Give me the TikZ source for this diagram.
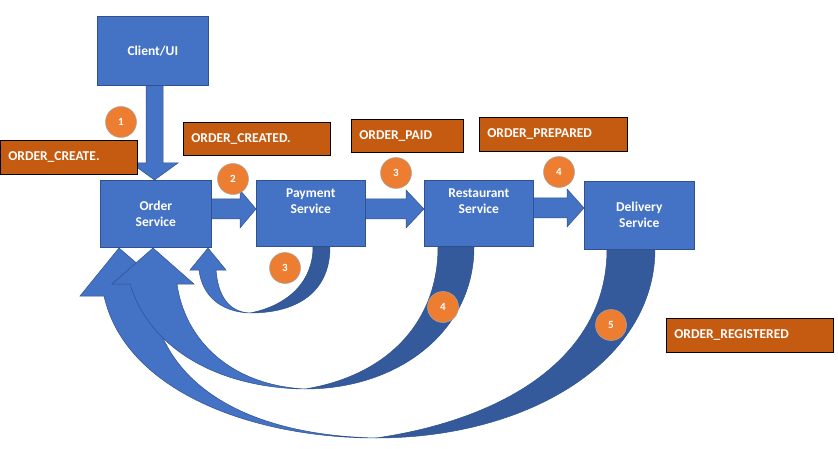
\documentclass[tikz,border=0pt]{standalone}
\usepackage{fontspec}
\setmainfont{Carlito}
\begin{document}
\begin{tikzpicture}[x=1pt,y=-1pt,
  svc/.style={draw=blue1d,line width=0.6pt,fill=blue1,text=white,font=\bfseries\fontsize{13.5}{16}\selectfont,align=center,anchor=north west},
  lbl/.style={draw=black,line width=0.6pt,fill=orng,text=white,font=\bfseries\fontsize{13.5}{16}\selectfont,anchor=north west,inner xsep=8pt,inner ysep=0pt,align=left},
  num/.style={circle,draw=gray!70,line width=0.5pt,fill=orng2,text=white,font=\bfseries\fontsize{11}{12}\selectfont,minimum size=31pt,inner sep=0pt},
  lt/.style={fill=blue1,draw=blue1d,line width=0.5pt},
  dk/.style={fill=blue2,draw=blue1d,line width=0.5pt}]
\definecolor{blue1}{HTML}{4472C4}
\definecolor{blue1d}{HTML}{2F528F}
\definecolor{blue2}{HTML}{345A9C}
\definecolor{orng}{HTML}{C55A11}
\definecolor{orng2}{HTML}{ED7D31}
\useasboundingbox (0,0) rectangle (838,449);
% large curved arrow
\draw[dk] (607,249) -- (655,249) .. controls (655,360) and (530,438) .. (376,438) .. controls (500,420) and (607,360) .. (607,249) -- cycle;
\draw[lt] (376,438) .. controls (240,435) and (160,380) .. (152,296) -- (175,296) -- (119,248) -- (80,296) -- (104,296) .. controls (125,390) and (250,438) .. (376,438) -- cycle;
% medium
\draw[dk] (438,247) -- (474,247) .. controls (474,330) and (400,389) .. (305,389) .. controls (390,375) and (438,320) .. (438,247) -- cycle;
\draw[lt] (305,389) .. controls (230,385) and (185,340) .. (177,284) -- (194,284) -- (153,248) -- (112,284) -- (130,284) .. controls (150,350) and (220,388) .. (305,389) -- cycle;
% small
\draw[dk] (313,247) -- (330,247) .. controls (330,290) and (300,313) .. (250,313) .. controls (290,305) and (313,280) .. (313,247) -- cycle;
\draw[lt] (250,313) .. controls (228,312) and (218,295) .. (216,270) -- (226,270) -- (208,248) -- (190,270) -- (199,270) .. controls (202,295) and (220,312) .. (250,313) -- cycle;
% down arrow
\draw[lt] (146,85) -- (163,85) -- (163,163) -- (178,163) -- (154.5,180) -- (131,163) -- (146,163) -- cycle;
% right arrows
\draw[lt] (211,199) -- (240,199) -- (240,190) -- (256,209) -- (240,228) -- (240,219) -- (211,219) -- cycle;
\draw[lt] (365,199) -- (406,199) -- (406,190) -- (424,209) -- (406,228) -- (406,219) -- (365,219) -- cycle;
\draw[lt] (533,198) -- (567,198) -- (567,189) -- (584,208) -- (567,227) -- (567,218) -- (533,218) -- cycle;
% boxes
\node[svc,minimum width=111pt,minimum height=69pt] (ui) at (97,16) {Client/UI};
\node[svc,minimum width=111pt,minimum height=67pt] (os) at (100,180) {Order\\Service};
\node[svc,minimum width=109pt,minimum height=66pt] (ps) at (256,180) {Payment\\Service\\[8pt]};
\node[svc,minimum width=109pt,minimum height=66pt] (rs) at (424,180) {Restaurant\\Service\\[8pt]};
\node[svc,minimum width=110pt,minimum height=68pt] (ds) at (584,181) {Delivery\\Service};
% labels
\node[lbl,minimum height=34pt,text width=121pt] (l1) at (0,140) {ORDER\_CREATE.};
\node[lbl,minimum height=33pt,text width=131pt] (l2) at (183,122) {ORDER\_CREATED.};
\node[lbl,minimum height=33pt,text width=96pt] (l3) at (351,119) {ORDER\_PAID};
\node[lbl,minimum height=34pt,text width=132pt] (l4) at (479,117) {ORDER\_PREPARED};
\node[lbl,minimum height=34pt,text width=151pt] (l5) at (666,318) {ORDER\_REGISTERED};
% numbers
\node[num] (n1) at (121,122) {1};
\node[num] (n2) at (233,179) {2};
\node[num] (n3) at (396,173) {3};
\node[num] (n4) at (559,172) {4};
\node[num] (n3b) at (285,268) {3};
\node[num] (n4b) at (443,307) {4};
\node[num] (n5) at (611,325) {5};
\end{tikzpicture}
\end{document}
